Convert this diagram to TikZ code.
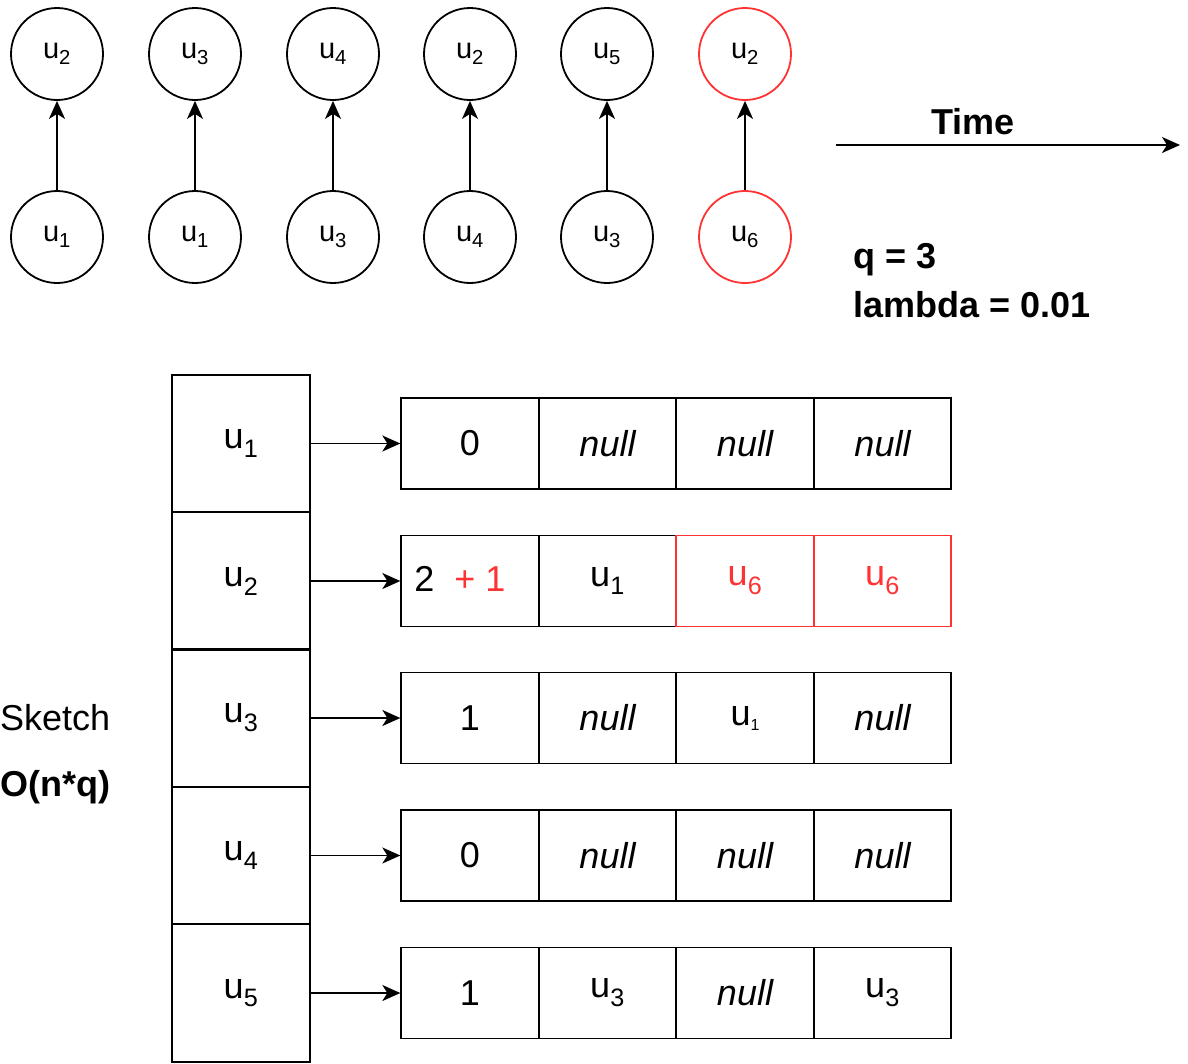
\documentclass[tikz,border=0pt]{standalone}
\usepackage{fontspec}
\setmainfont{Liberation Sans}
\usetikzlibrary{arrows.meta}
\definecolor{myred}{HTML}{FF3333}
\newcommand{\uu}[1]{u\textsubscript{#1}}
\newcommand{\cu}[1]{\raisebox{-5pt}{u\textsubscript{#1}}}
\newcommand{\uusmall}[1]{u\raisebox{-5pt}{\fontsize{16}{16}\selectfont #1}}
\begin{document}
\begin{tikzpicture}[x=1pt,y=-1pt,
  circ/.style={circle,draw,line width=1.8pt,minimum size=92pt,inner sep=0pt,font=\fontsize{29}{30}\selectfont},
  redcirc/.style={circ,draw=myred},
  arr/.style={line width=1.8pt,-{Stealth[length=18pt,width=16pt,inset=5pt]}},
  skcell/.style={draw,line width=1.8pt,minimum width=138pt,minimum height=137.5pt,inner sep=0pt,font=\fontsize{36}{40}\selectfont},
  arcell/.style={draw,line width=1.8pt,minimum width=137.5pt,minimum height=91pt,inner sep=0pt,font=\fontsize{36}{40}\selectfont},
  redcell/.style={arcell,draw=myred,text=myred},
  lbl/.style={inner sep=0pt,font=\fontsize{36}{40}\selectfont},
  blbl/.style={inner sep=0pt,font=\fontsize{36}{40}\selectfont\bfseries}
]
\useasboundingbox (0,0) rectangle (1188,1063);

% top timeline circles
\node[circ] (t1) at (57,54) {\cu{2}};
\node[circ] (t2) at (195,54) {\cu{3}};
\node[circ] (t3) at (333,54) {\cu{4}};
\node[circ] (t4) at (470,54) {\cu{2}};
\node[circ] (t5) at (607,54) {\cu{5}};
\node[redcirc] (t6) at (745,54) {\cu{2}};
\node[circ] (b1) at (57,237) {\cu{1}};
\node[circ] (b2) at (195,237) {\cu{1}};
\node[circ] (b3) at (333,237) {\cu{3}};
\node[circ] (b4) at (470,237) {\cu{4}};
\node[circ] (b5) at (607,237) {\cu{3}};
\node[redcirc] (b6) at (745,237) {\cu{6}};
\foreach \i in {1,...,6} {\draw[arr] (b\i) -- (t\i);}

% time arrow
\coordinate (ts) at (836,145);
\coordinate (te) at (1180,145);
\draw[arr] (ts) -- (te);
\node[blbl] (time) at (973,122) {Time};
\node[blbl,anchor=west] (q) at (853,260) {q = 3};
\node[blbl,anchor=west] (lam) at (853,305) {lambda = 0.01};

% sketch labels
\node[lbl,anchor=west] (sk) at (0,718) {Sketch};
\node[blbl,anchor=west] (on) at (0,787) {O(n*q)};

% sketch column
\node[skcell] (s1) at (241,443.5) {\uu{1}};
\node[skcell] (s2) at (241,581) {\uu{2}};
\node[skcell] (s3) at (241,718) {\uu{3}};
\node[skcell] (s4) at (241,855.5) {\uu{4}};
\node[skcell] (s5) at (241,993) {\uu{5}};

% arrays
% row 1
\node[arcell] (c11) at (470,443.5) {0};
\node[arcell] (c12) at (607.5,443.5) {\itshape null};
\node[arcell] (c13) at (745,443.5) {\itshape null};
\node[arcell] (c14) at (882.5,443.5) {\itshape null};
% row 2
\node[arcell] (c21) at (470,581) {};
\node[lbl] (c21t) at (460,579) {2\hspace{20pt}{\color{myred}+ 1}};
\node[arcell] (c22) at (607.5,581) {\uu{1}};
\node[redcell] (c23) at (745,581) {\uu{6}};
\node[redcell] (c24) at (882.5,581) {\uu{6}};
% row 3
\node[arcell] (c31) at (470,718) {1};
\node[arcell] (c32) at (607.5,718) {\itshape null};
\node[arcell] (c33) at (745,718) {\uusmall{1}};
\node[arcell] (c34) at (882.5,718) {\itshape null};
% row 4
\node[arcell] (c41) at (470,855.5) {0};
\node[arcell] (c42) at (607.5,855.5) {\itshape null};
\node[arcell] (c43) at (745,855.5) {\itshape null};
\node[arcell] (c44) at (882.5,855.5) {\itshape null};
% row 5
\node[arcell] (c51) at (470,993) {1};
\node[arcell] (c52) at (607.5,993) {\uu{3}};
\node[arcell] (c53) at (745,993) {\itshape null};
\node[arcell] (c54) at (882.5,993) {\uu{3}};

\foreach \i in {1,...,5} {\draw[arr] (s\i.east) -- (c\i1.west);}
\end{tikzpicture}
\end{document}
